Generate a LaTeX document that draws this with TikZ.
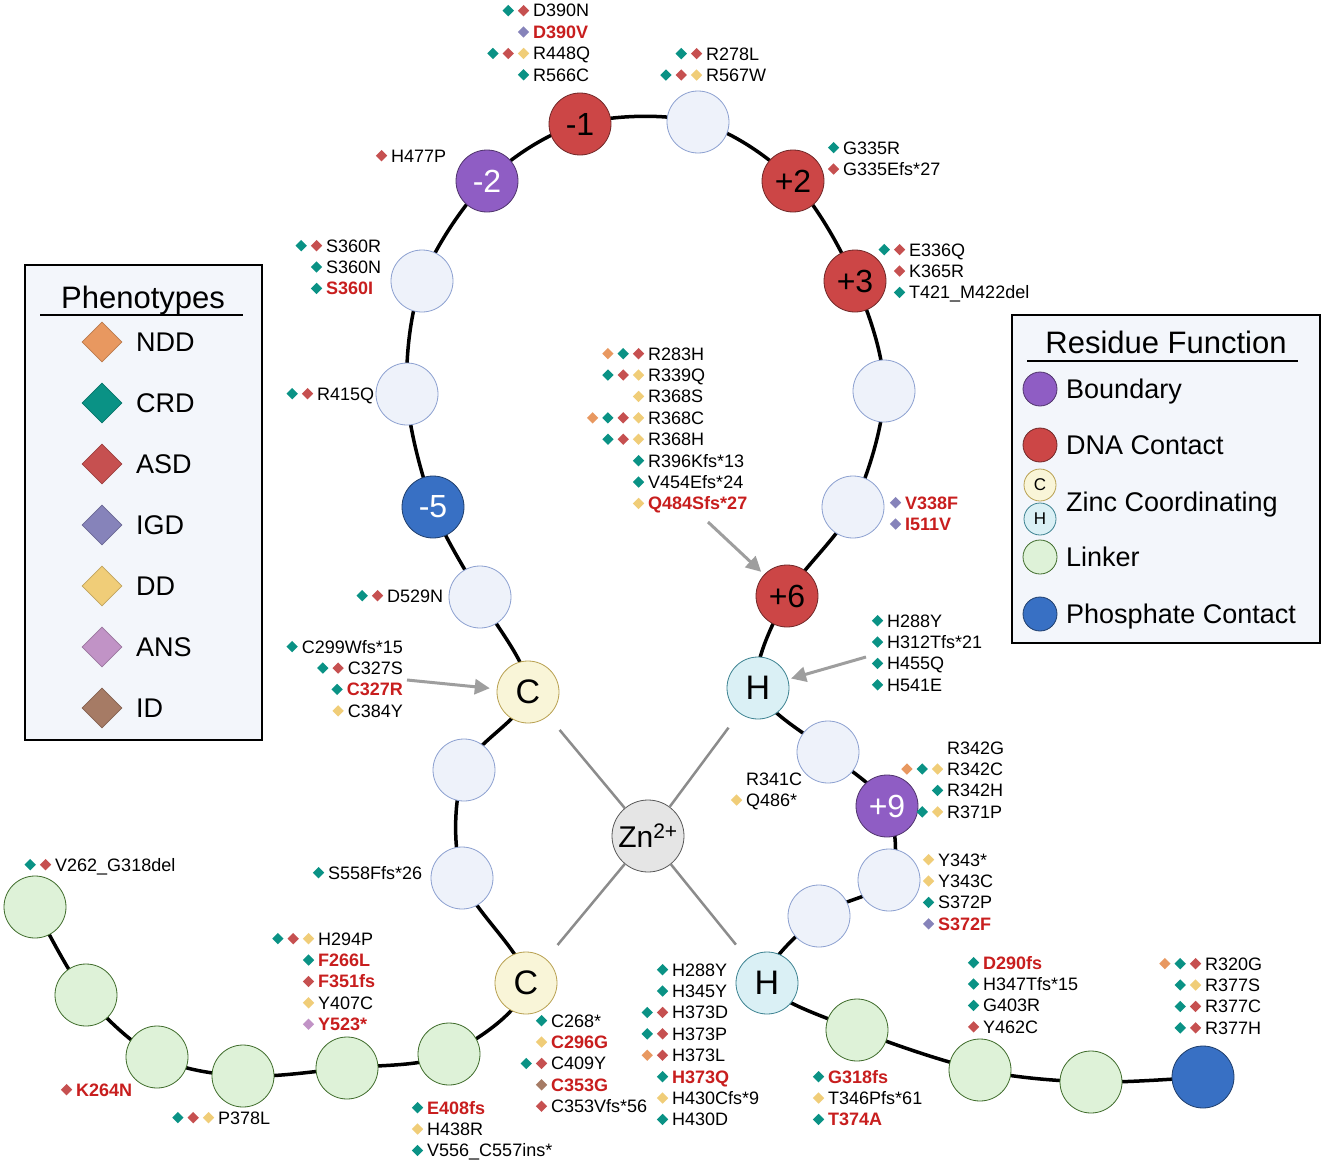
\documentclass[tikz,border=0pt]{standalone}
\usepackage{fontspec}
\setmainfont{Liberation Sans}
\usepackage{graphicx}
\usetikzlibrary{positioning,shapes.geometric,arrows.meta,backgrounds}

\definecolor{cNDD}{RGB}{232,152,96}
\definecolor{cCRD}{RGB}{10,146,133}
\definecolor{cASD}{RGB}{198,80,80}
\definecolor{cIGD}{RGB}{134,131,186}
\definecolor{cDD}{RGB}{240,205,120}
\definecolor{cANS}{RGB}{193,147,198}
\definecolor{cID}{RGB}{166,123,101}
\definecolor{hotred}{RGB}{200,30,30}
\definecolor{dnared}{RGB}{204,70,70}
\definecolor{bndpurple}{RGB}{143,93,196}
\definecolor{phosblue}{RGB}{56,112,196}
\definecolor{znyellow}{RGB}{249,245,216}
\definecolor{znedge}{RGB}{184,160,80}
\definecolor{hiscyan}{RGB}{218,240,245}
\definecolor{hisedge}{RGB}{60,130,145}
\definecolor{linkgreen}{RGB}{222,242,216}
\definecolor{linkedge}{RGB}{62,107,42}
\definecolor{plainres}{RGB}{238,242,250}
\definecolor{plainedge}{RGB}{140,160,208}
\definecolor{legfill}{RGB}{243,246,251}

% phenotype diamonds in the mutation lists
\newcommand{\dmd}[1]{\textcolor{#1}{\raisebox{0.7pt}{\rotatebox{45}{\rule{8pt}{8pt}}}}\hspace{4pt}}
\newcommand{\pNDD}{\dmd{cNDD}}
\newcommand{\pCRD}{\dmd{cCRD}}
\newcommand{\pASD}{\dmd{cASD}}
\newcommand{\pIGD}{\dmd{cIGD}}
\newcommand{\pDD}{\dmd{cDD}}
\newcommand{\pANS}{\dmd{cANS}}
\newcommand{\pID}{\dmd{cID}}
\newcommand{\hot}[1]{\textcolor{hotred}{\bfseries #1}}
\newcommand{\mut}[2]{\llap{#1}#2}
% lists hang from the baseline of their first line
\newcommand{\mlist}[1]{\begin{tabular}[t]{@{}l@{}}#1\end{tabular}}
\newcommand{\mlistr}[1]{\begin{tabular}[t]{@{}r@{}}#1\end{tabular}}

\begin{document}
\begin{tikzpicture}[x=1pt,y=-1pt]
\tikzstyle{every node}+=[inner sep=0pt]
\tikzstyle{res}=[circle,minimum size=62pt,draw=plainedge,line width=0.8pt,fill=plainres,font=\fontsize{32}{32}\selectfont]
\tikzstyle{dna}=[res,fill=dnared,draw=dnared!55!black]
\tikzstyle{bnd}=[res,fill=bndpurple,draw=bndpurple!55!black,text=white]
\tikzstyle{phos}=[res,fill=phosblue,draw=phosblue!55!black,text=white]
\tikzstyle{zncys}=[res,fill=znyellow,draw=znedge,font=\fontsize{34}{34}\selectfont]
\tikzstyle{znhis}=[res,fill=hiscyan,draw=hisedge,font=\fontsize{34}{34}\selectfont]
\tikzstyle{link}=[res,fill=linkgreen,draw=linkedge]
\tikzstyle{znion}=[circle,minimum size=72pt,fill=black!10,draw=black!65,line width=0.8pt,font=\fontsize{30}{30}\selectfont]
\tikzstyle{backbone}=[line width=3.5pt]
\tikzstyle{znbond}=[black!45,line width=2.5pt,shorten >=18pt]
\tikzstyle{pointer}=[black!38,line width=3pt,-{Triangle[length=15pt,width=15pt]}]
\tikzstyle{mut}=[anchor=base west,font=\fontsize{18}{21.4}\selectfont]
\tikzstyle{mutr}=[mut,anchor=base east]
\tikzstyle{legframe}=[fill=legfill,draw=black,line width=2pt]
\tikzstyle{legtitle}=[anchor=base,font=\fontsize{31}{31}\selectfont]
\tikzstyle{legtext}=[anchor=base west,font=\fontsize{27}{27}\selectfont]
\tikzstyle{pheno}=[diamond,minimum size=40pt,line width=0.6pt]

\useasboundingbox (0,0) rectangle (1325,1164);

% residues, from the linker end round the zinc finger loop
\node[link] (g1) at (35,907) {};
\node[link] (g2) at (86,995) {};
\node[link] (g3) at (157,1057) {};
\node[link] (g4) at (243,1076) {};
\node[link] (g5) at (347,1068) {};
\node[link] (g6) at (449,1054) {};
\node[zncys] (c2) at (526,983) {C};
\node[res] (r1) at (462,878) {};
\node[res] (r2) at (464,770) {};
\node[zncys] (c1) at (528,692) {C};
\node[res] (r3) at (480,597) {};
\node[phos] (m5) at (433,507) {-5};
\node[res] (r4) at (407,394) {};
\node[res] (r5) at (422,281) {};
\node[bnd] (m2) at (487,181) {-2};
\node[dna] (m1) at (580,124) {-1};
\node[res] (r6) at (698,122) {};
\node[dna] (p2) at (793,181) {+2};
\node[dna] (p3) at (855,281) {+3};
\node[res] (r7) at (884,391) {};
\node[res] (r8) at (853,507) {};
\node[dna] (p6) at (787,596) {+6};
\node[znhis] (h1) at (758,688) {H};
\node[res] (r9) at (828,752) {};
\node[bnd] (p9) at (887,806) {+9};
\node[res] (r10) at (889,880) {};
\node[res] (r11) at (819,916) {};
\node[znhis] (h2) at (767,983) {H};
\node[link] (g7) at (857,1030) {};
\node[link] (g8) at (980,1070) {};
\node[link] (g9) at (1091,1082) {};
\node[phos] (g10) at (1203,1077) {};

\begin{pgfonlayer}{background}
\fill[white] (0,0) rectangle (1325,1164);
\draw[backbone] plot[smooth,tension=0.55] coordinates {(g1.center) (g2.center) (g3.center) (g4.center) (g5.center) (g6.center) (c2.center) (r1.center) (r2.center) (c1.center) (r3.center) (m5.center) (r4.center) (r5.center) (m2.center) (m1.center) (r6.center) (p2.center) (p3.center) (r7.center) (r8.center) (p6.center) (h1.center) (r9.center) (p9.center) (r10.center) (r11.center) (h2.center) (g7.center) (g8.center) (g9.center) (g10.center)};
\end{pgfonlayer}

% zinc ion
\node[znion] (zn) at (648,836) {Zn\textsuperscript{2+}};
\draw[znbond] (zn) -- (c1);
\draw[znbond] (zn) -- (h1);
\draw[znbond] (zn) -- (c2);
\draw[znbond] (zn) -- (h2);

% pointers
\coordinate (q484) at (708,522);
\coordinate (h288) at (866,657);
\coordinate (c327) at (407,680);
\draw[pointer,shorten >=4pt] (q484) -- (p6);
\draw[pointer,shorten >=3pt] (h288) -- (h1);
\draw[pointer,shorten >=7pt] (c327) -- (c1);

% mutation lists
\node[mut] (lab-D390N) at (533,17) {\mlist{\mut{\pCRD\pASD}{D390N}\\ \mut{\pIGD}{\hot{D390V}}\\ \mut{\pCRD\pASD\pDD}{R448Q}\\ \mut{\pCRD}{R566C}}};
\node[mut] (lab-R278L) at (706,60) {\mlist{\mut{\pCRD\pASD}{R278L}\\ \mut{\pCRD\pASD\pDD}{R567W}}};
\node[mut] (lab-H477P) at (391,162) {\mlist{\mut{\pASD}{H477P}}};
\node[mut] (lab-G335R) at (843,154) {\mlist{\mut{\pCRD}{G335R}\\ \mut{\pASD}{G335Efs*27}}};
\node[mut] (lab-E336Q) at (909,256) {\mlist{\mut{\pCRD\pASD}{E336Q}\\ \mut{\pASD}{K365R}\\ \mut{\pCRD}{T421\_M422del}}};
\node[mut] (lab-S360R) at (326,252) {\mlist{\mut{\pCRD\pASD}{S360R}\\ \mut{\pCRD}{S360N}\\ \mut{\pCRD}{\hot{S360I}}}};
\node[mut] (lab-R415Q) at (317,400) {\mlist{\mut{\pCRD\pASD}{R415Q}}};
\node[mut] (lab-D529N) at (387,602) {\mlist{\mut{\pCRD\pASD}{D529N}}};
\node[mut] (lab-R283H) at (648,360) {\mlist{\mut{\pNDD\pCRD\pASD}{R283H}\\ \mut{\pCRD\pASD\pDD}{R339Q}\\ \mut{\pDD}{R368S}\\ \mut{\pNDD\pCRD\pASD\pDD}{R368C}\\ \mut{\pCRD\pASD\pDD}{R368H}\\ \mut{\pCRD}{R396Kfs*13}\\ \mut{\pCRD}{V454Efs*24}\\ \mut{\pDD}{\hot{Q484Sfs*27}}}};
\node[mut] (lab-V338F) at (905,509) {\mlist{\mut{\pIGD}{\hot{V338F}}\\ \mut{\pIGD}{\hot{I511V}}}};
\node[mutr] (lab-C299W) at (403,653) {\mlistr{\pCRD C299Wfs*15\\ \pCRD\pASD C327S\\ \pCRD\hot{C327R}\\ \pDD C384Y}};
\node[mut] (lab-H288Y) at (887,627) {\mlist{\mut{\pCRD}{H288Y}\\ \mut{\pCRD}{H312Tfs*21}\\ \mut{\pCRD}{H455Q}\\ \mut{\pCRD}{H541E}}};
\node[mut] (lab-R341C) at (746,785) {\mlist{R341C\\ \mut{\pDD}{Q486*}}};
\node[mut] (lab-R342G) at (947,754) {\mlist{R342G\\ \mut{\pNDD\pCRD\pDD}{R342C}\\ \mut{\pCRD}{R342H}\\ \mut{\pCRD\pDD}{R371P}}};
\node[mut] (lab-Y343) at (938,866) {\mlist{\mut{\pDD}{Y343*}\\ \mut{\pDD}{Y343C}\\ \mut{\pCRD}{S372P}\\ \mut{\pIGD}{\hot{S372F}}}};
\node[mut] (lab-S558F) at (328,879) {\mlist{\mut{\pCRD}{S558Ffs*26}}};
\node[mut] (lab-V262) at (55,871) {\mlist{\mut{\pCRD\pASD}{V262\_G318del}}};
\node[mut] (lab-H294P) at (318,945) {\mlist{\mut{\pCRD\pASD\pDD}{H294P}\\ \mut{\pCRD}{\hot{F266L}}\\ \mut{\pASD}{\hot{F351fs}}\\ \mut{\pDD}{Y407C}\\ \mut{\pANS}{\hot{Y523*}}}};
\node[mut] (lab-K264N) at (76,1096) {\mlist{\mut{\pASD}{\hot{K264N}}}};
\node[mut] (lab-P378L) at (218,1124) {\mlist{\mut{\pCRD\pASD\pDD}{P378L}}};
\node[mut] (lab-E408) at (427,1114) {\mlist{\mut{\pCRD}{\hot{E408fs}}\\ \mut{\pDD}{H438R}\\ \mut{\pCRD}{V556\_C557ins*}}};
\node[mut] (lab-C268) at (551,1027) {\mlist{\mut{\pCRD}{C268*}\\ \mut{\pDD}{\hot{C296G}}\\ \mut{\pCRD\pASD}{C409Y}\\ \mut{\pID}{\hot{C353G}}\\ \mut{\pASD}{C353Vfs*56}}};
\node[mut] (lab-H288Y2) at (672,976) {\mlist{\mut{\pCRD}{H288Y}\\ \mut{\pCRD}{H345Y}\\ \mut{\pCRD\pASD}{H373D}\\ \mut{\pCRD\pASD}{H373P}\\ \mut{\pNDD\pASD}{H373L}\\ \mut{\pCRD}{\hot{H373Q}}\\ \mut{\pDD}{H430Cfs*9}\\ \mut{\pCRD}{H430D}}};
\node[mut] (lab-G318) at (828,1083) {\mlist{\mut{\pCRD}{\hot{G318fs}}\\ \mut{\pDD}{T346Pfs*61}\\ \mut{\pCRD}{\hot{T374A}}}};
\node[mut] (lab-D290) at (983,969) {\mlist{\mut{\pCRD}{\hot{D290fs}}\\ \mut{\pCRD}{H347Tfs*15}\\ \mut{\pCRD}{G403R}\\ \mut{\pASD}{Y462C}}};
\node[mut] (lab-R320G) at (1205,970) {\mlist{\mut{\pNDD\pCRD\pASD}{R320G}\\ \mut{\pCRD\pDD}{R377S}\\ \mut{\pCRD\pASD}{R377C}\\ \mut{\pCRD\pASD}{R377H}}};

% legend: phenotypes
\draw[legframe] (25,265) rectangle (262,740);
\node[legtitle] (phenotitle) at (143,308) {Phenotypes};
\draw[line width=1.6pt] (40,315) -- (243,315);
\foreach \name/\col [count=\i] in {NDD/cNDD,CRD/cCRD,ASD/cASD,IGD/cIGD,DD/cDD,ANS/cANS,ID/cID}
{
  \node[pheno,fill=\col,draw=\col!80!black] (ph\i) at (102,{342+61*(\i-1)}) {};
  \node[legtext] (pht\i) at (136,{342+61*(\i-1)+9.3}) {\name};
}

% legend: residue function
\draw[legframe] (1012,315) rectangle (1320,643);
\node[legtitle] (restitle) at (1166,353) {Residue Function};
\draw[line width=1.6pt] (1027,361) -- (1298,361);
\node[bnd,minimum size=34pt] (lg-bnd) at (1040,389) {};
\node[dna,minimum size=34pt] (lg-dna) at (1040,445) {};
\node[zncys,minimum size=32pt,font=\fontsize{17}{17}\selectfont] (lg-cys) at (1040,485) {C};
\node[znhis,minimum size=32pt,font=\fontsize{17}{17}\selectfont] (lg-his) at (1040,519) {H};
\node[link,minimum size=34pt] (lg-link) at (1040,557) {};
\node[phos,minimum size=34pt] (lg-phos) at (1040,614) {};
\node[legtext] (lgt-bnd) at (1066,398.7) {Boundary};
\node[legtext] (lgt-dna) at (1066,454.7) {DNA Contact};
\node[legtext] (lgt-zn) at (1066,511.7) {Zinc Coordinating};
\node[legtext] (lgt-link) at (1066,566.7) {Linker};
\node[legtext] (lgt-phos) at (1066,623.7) {Phosphate Contact};
\end{tikzpicture}
\end{document}
